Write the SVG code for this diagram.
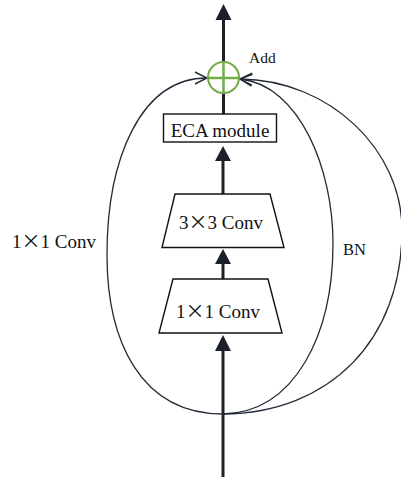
<svg xmlns="http://www.w3.org/2000/svg" width="401" height="482" viewBox="0 0 401 482">
  <defs>
    <style>
      .lbl { font-family: "Liberation Serif", "Times New Roman", serif; fill: #111; }
      .x { font-family: "Noto Sans CJK SC", sans-serif; }
      .box { fill: #fff; stroke: #111; stroke-width: 1.4; }
      .main { stroke: #1b202b; stroke-width: 3; fill: none; }
      .skip { stroke: #232a38; stroke-width: 1.3; fill: none; marker-end: url(#open); }
    </style>
    <marker id="open" viewBox="0 0 14 14" refX="13" refY="7" markerWidth="14" markerHeight="14" markerUnits="userSpaceOnUse" orient="auto">
      <path d="M1,1 L13,7 L1,13" fill="none" stroke="#232a38" stroke-width="1.4"/>
    </marker>
  </defs>

  <!-- main data path -->
  <g id="connectors">
    <line class="main" x1="223" y1="477" x2="223" y2="349"/>
    <polygon points="223,335 215,351 231,351" fill="#1b202b"/>
    <line class="main" x1="223" y1="279" x2="223" y2="262"/>
    <polygon points="223,249 215,264 231,264" fill="#1b202b"/>
    <line class="main" x1="223" y1="194" x2="223" y2="160"/>
    <polygon points="223,146 215,161 231,161" fill="#1b202b"/>
    <line class="main" x1="223.5" y1="114" x2="223.5" y2="93"/>
    <line class="main" x1="223.5" y1="62" x2="223.5" y2="19"/>
    <polygon points="223.5,4 215.5,20 231.5,20" fill="#1b202b"/>

    <!-- shortcut branches -->
    <path class="skip" d="M223,414 C140,414 107,340 107,255 C107,160 140,78 207,78"/>
    <path class="skip" d="M223,414 C295,412 333,335 333,243 C333,170 300,85 240,79"/>
    <path class="skip" d="M223,414 C330,413 402,340 402,230 C402,150 330,80 240,79"/>
  </g>

  <g id="add">
    <circle cx="223.5" cy="77.5" r="15.5" fill="none" stroke="#70ad47" stroke-width="2"/>
    <line x1="208" y1="78" x2="239" y2="78" stroke="#70ad47" stroke-width="2.5"/>
    <line x1="223.5" y1="62" x2="223.5" y2="93" stroke="#70ad47" stroke-width="2.5"/>
    <text class="lbl" x="249" y="63" font-size="15.5">Add</text>
  </g>

  <g id="eca">
    <rect class="box" x="163.5" y="114" width="113" height="28"/>
    <text class="lbl" x="220" y="136.5" font-size="19" text-anchor="middle">ECA module</text>
  </g>

  <g id="conv3">
    <polygon class="box" points="175,194 270,194 284,247.5 162,247.5"/>
    <text class="lbl" x="179" y="229" font-size="19">3<tspan class="x">×</tspan>3 Conv</text>
  </g>

  <g id="conv1">
    <polygon class="box" points="173,279 268,279 282,333 159,333"/>
    <text class="lbl" x="176" y="318" font-size="19">1<tspan class="x">×</tspan>1 Conv</text>
  </g>

  <g id="shortcut-labels">
    <text class="lbl" x="12" y="248" font-size="19">1<tspan class="x">×</tspan>1 Conv</text>
    <text class="lbl" x="343" y="255" font-size="16.5">BN</text>
  </g>
</svg>
